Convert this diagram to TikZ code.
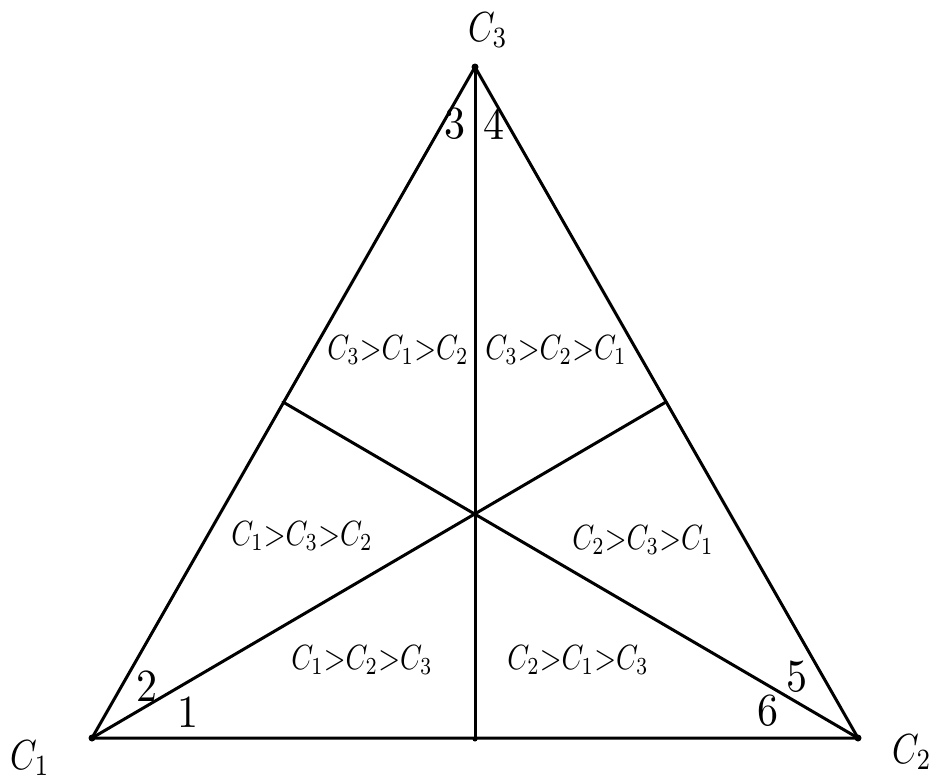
\documentclass[tikz,border=0pt]{standalone}
\usepackage{graphicx}
\newcommand{\vl}[1]{\scalebox{3.4}[4.2]{$#1$}}
\newcommand{\rl}[1]{\scalebox{2.8}[3.5]{$#1$}}
\newcommand{\nl}[1]{\scalebox{4.2}[4.6]{#1}}
\begin{document}
\begin{tikzpicture}[x=1pt,y=-1pt,
  edge/.style={line width=3pt,line cap=round},
  vdot/.style={circle,fill=black,inner sep=0pt,minimum size=7pt},
  txt/.style={inner sep=0pt}]
\useasboundingbox (0,0) rectangle (940,782);
\node[vdot] (c1) at (92,738) {};
\node[vdot] (c2) at (858,738) {};
\node[vdot] (c3) at (475,67) {};
\node[vdot,minimum size=5pt] (m) at (475,739) {};
\coordinate (l) at (283,402);
\coordinate (r) at (666,402);
\draw[edge] (c1.center) -- (c2.center) -- (c3.center) -- cycle;
\draw[edge] (c3.center) -- (m.center);
\draw[edge] (c1.center) -- (r);
\draw[edge] (c2.center) -- (l);
\node[txt] (t3) at (488,30) {\vl{C_3}};
\node[txt] (t1) at (30,758) {\vl{C_1}};
\node[txt] (t2) at (912,752) {\vl{C_2}};
\node[txt] (a) at (398,350) {\rl{C_3{>}C_1{>}C_2}};
\node[txt] (b) at (556,350) {\rl{C_3{>}C_2{>}C_1}};
\node[txt] (c) at (302,536) {\rl{C_1{>}C_3{>}C_2}};
\node[txt] (d) at (643,540) {\rl{C_2{>}C_3{>}C_1}};
\node[txt] (e) at (362,660) {\rl{C_1{>}C_2{>}C_3}};
\node[txt] (f) at (578,660) {\rl{C_2{>}C_1{>}C_3}};
\node[txt] (n3) at (455,124) {\nl{3}};
\node[txt] (n4) at (494,124) {\nl{4}};
\node[txt] (n2) at (147,686) {\nl{2}};
\node[txt] (n1) at (188,712) {\nl{1}};
\node[txt] (n5) at (797,677) {\nl{5}};
\node[txt] (n6) at (768,711) {\nl{6}};
\end{tikzpicture}
\end{document}
